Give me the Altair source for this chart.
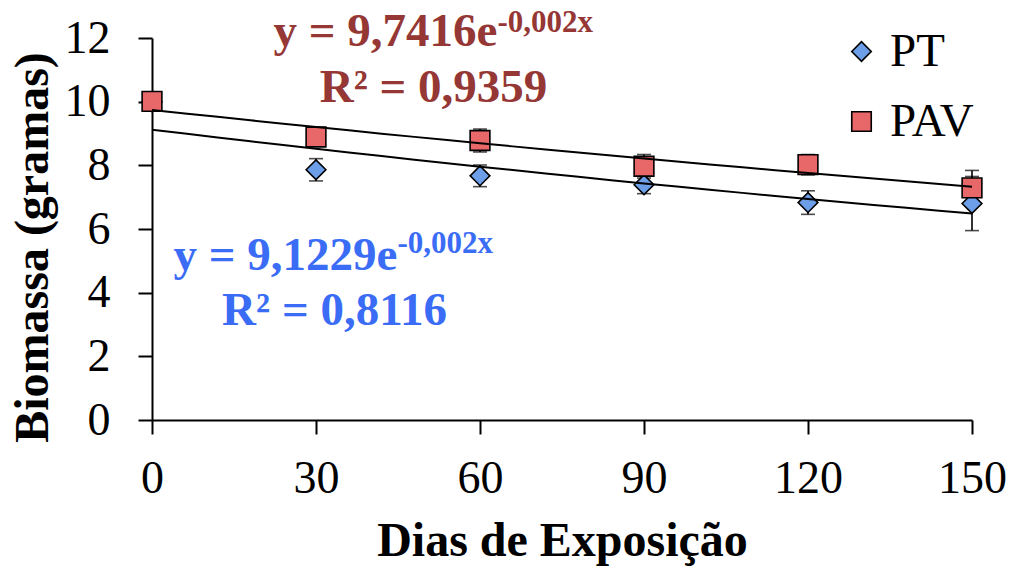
import altair as alt
import pandas as pd

# ---- data ----
days = [0, 30, 60, 90, 120, 150]
pt_mean = [10.00, 7.86, 7.67, 7.39, 6.83, 6.80]
pt_err = [0.10, 0.35, 0.34, 0.28, 0.37, 0.85]
pav_mean = [10.01, 8.89, 8.78, 7.97, 8.02, 7.29]
pav_err = [0.10, 0.20, 0.36, 0.37, 0.32, 0.55]
series_names = ["PT", "PAV"]
x_ticks = [0, 30, 60, 90, 120, 150]
y_ticks = [0, 2, 4, 6, 8, 10, 12]

eq_pav = ["y = 9,7416e", "-0,002x", "R² = 0,9359"]
eq_pt = ["y = 9,1229e", "-0,002x", "R² = 0,8116"]

rows = []
for name, means, errs in [("PT", pt_mean, pt_err), ("PAV", pav_mean, pav_err)]:
    for d, m, e in zip(days, means, errs):
        rows.append({"dia": d, "biomassa": m, "erro": e, "serie": name})
df = pd.DataFrame(rows)

FONT = "Liberation Serif"
RED_TXT = "#953735"
BLUE_TXT = "#3a6cf6"

xscale = alt.Scale(domain=[0, 150], nice=False, zero=False)
yscale = alt.Scale(domain=[0, 12], nice=False)

x_enc = alt.X("dia:Q", scale=xscale,
              axis=alt.Axis(values=x_ticks, title="Dias de Exposição",
                            titleY=135, titleBaseline="alphabetic"))
y_enc = alt.Y("biomassa:Q", scale=yscale,
              axis=alt.Axis(values=y_ticks, title="Biomassa (gramas)",
                            titleX=-105, titleY=209, titleBaseline="alphabetic",
                            titleAngle=270))

base = alt.Chart(df)

err_lo_hi = base.transform_calculate(
    lo="datum.biomassa - datum.erro", hi="datum.biomassa + datum.erro")

err_rule = err_lo_hi.mark_rule(color="black", strokeWidth=1.6).encode(
    x=x_enc, y=alt.Y("lo:Q", scale=yscale), y2="hi:Q")
err_cap_lo = err_lo_hi.mark_tick(color="black", orient="horizontal", size=14,
                                 thickness=1.6).encode(
    x=x_enc, y=alt.Y("lo:Q", scale=yscale))
err_cap_hi = err_lo_hi.mark_tick(color="black", orient="horizontal", size=14,
                                 thickness=1.6).encode(
    x=x_enc, y=alt.Y("hi:Q", scale=yscale))

points = base.mark_point(filled=False, size=390, opacity=1, stroke="black",
                         strokeWidth=1.6, fillOpacity=1).encode(
    x=x_enc, y=y_enc,
    shape=alt.Shape("serie:N", scale=alt.Scale(domain=series_names,
                                               range=["diamond", "square"]),
                    legend=alt.Legend(orient="none", legendX=686, legendY=-10,
                                      title=None, labelFont=FONT,
                                      labelFontSize=47, labelColor="black",
                                      symbolSize=380, symbolStrokeColor="black",
                                      symbolStrokeWidth=1.6, symbolOpacity=1,
                                      symbolFillColor="#6d9ee8",
                                      rowPadding=22, labelOffset=5,
                                      padding=0)),
    fill=alt.Fill("serie:N", scale=alt.Scale(domain=series_names,
                                             range=["#6d9ee8", "#e8686a"]),
                  legend=None),
    order=alt.Order("serie:N", sort="descending"),
)

# Excel-style exponential trendline: least squares on ln(y), then back-transformed
trend = base.transform_calculate(
    ly="log(datum.biomassa)"
).transform_regression(
    "dia", "ly", groupby=["serie"], method="poly", order=1
).transform_calculate(
    biomassa="exp(datum.ly)"
).mark_line(color="black", strokeWidth=2).encode(
    x=x_enc, y=y_enc, detail="serie:N")

one = pd.DataFrame({"k": [0]})


def label(txt, x, y, color, size, align):
    return alt.Chart(one).mark_text(
        text=txt, font=FONT, fontWeight="bold", fontSize=size, color=color,
        align=align, baseline="alphabetic"
    ).encode(x=alt.datum(x), y=alt.datum(y))


texts = [
    label(eq_pav[0], 63.2, 11.75, RED_TXT, 47, "right"),
    label(eq_pav[1], 63.2, 12.19, RED_TXT, 31, "left"),
    label(eq_pav[2], 51.5, 9.99, RED_TXT, 47, "center"),
    label(eq_pt[0], 44.9, 4.71, BLUE_TXT, 47, "right"),
    label(eq_pt[1], 44.9, 5.25, BLUE_TXT, 31, "left"),
    label(eq_pt[2], 33.4, 2.98, BLUE_TXT, 47, "center"),
]

chart = alt.layer(err_rule, err_cap_lo, err_cap_hi, points, trend, *texts).properties(
    width=820, height=382,
    autosize=alt.AutoSizeParams(type="none"),
    padding={"left": 152, "top": 38, "right": 39, "bottom": 146},
).configure_view(stroke=None).configure_axis(
    grid=False, domainColor="black", domainWidth=2, tickColor="black",
    tickWidth=2, tickSize=14, labelFont=FONT, labelFontSize=46,
    labelColor="black", titleFont=FONT, titleFontSize=48, titleFontWeight="bold",
    titleColor="black", labelFlush=False, labelOverlap=False,
).configure_axisX(labelPadding=22).configure_axisY(labelPadding=28)

chart.save("out.html", embed_options={"renderer": "svg", "actions": False})
